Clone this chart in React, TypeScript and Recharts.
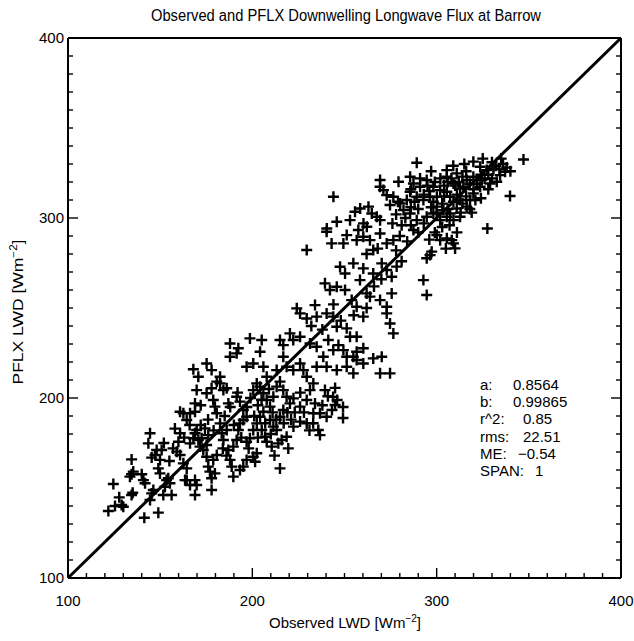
import React from 'react';
import { ScatterChart, Scatter, XAxis, YAxis, ReferenceLine } from 'recharts';

const FONT = '"Liberation Sans", Arial, "DejaVu Sans", sans-serif';

const lowerPoints: [number, number][] = [
  [121.9,137.2],[125.5,140.0],[127.8,144.8],[129.1,140.6],[130.0,139.6],[124.6,152.2],[134.5,146.1],[135.1,147.4],
  [141.4,133.5],[149.0,136.3],[144.5,143.3],[146.3,148.9],[145.4,147.0],[134.5,157.6],[133.6,156.3],[135.4,159.1],
  [134.5,165.9],[140.0,157.6],[140.9,154.4],[141.8,152.6],[143.6,174.8],[144.5,180.4],[145.4,166.9],[147.2,168.3],
  [148.1,171.1],[149.9,165.6],[150.8,171.1],[149.0,160.9],[149.9,158.1],[153.5,154.4],[154.4,155.4],[152.6,150.7],
  [156.2,146.1],[151.7,146.1],[155.3,152.6],[160.8,192.4],[162.6,191.5],[164.4,187.8],[166.2,191.5],[168.9,192.4],
  [168.9,197.0],[169.8,204.4],[160.8,180.4],[159.9,175.7],[159.0,170.2],[160.8,168.3],[162.6,163.7],[164.4,160.9],
  [163.5,154.4],[166.2,151.7],[168.9,146.1],[166.2,174.8],[168.0,177.6],[168.9,180.4],[169.8,182.2],[170.7,176.7],
  [171.6,173.0],[172.5,177.6],[173.4,171.1],[175.2,173.9],[176.1,179.4],[174.3,183.1],[175.2,202.6],[177.9,205.4],
  [178.8,198.9],[179.7,195.2],[180.7,191.5],[180.7,209.1],[182.5,208.1],[184.3,204.4],[186.1,205.4],[187.0,197.0],
  [191.5,200.7],[193.3,198.0],[195.1,193.3],[175.2,167.4],[176.1,161.9],[177.0,159.1],[177.9,155.4],[178.8,165.6],
  [180.7,168.3],[179.7,158.1],[177.9,148.9],[169.8,151.7],[168.9,154.4],[164.4,154.4],[182.5,185.9],[183.4,180.4],
  [184.3,176.7],[186.1,182.2],[187.0,171.1],[187.9,165.6],[188.8,161.9],[189.7,173.0],[191.5,176.7],[192.4,182.2],
  [193.3,185.9],[195.1,187.8],[196.9,189.6],[189.7,156.3],[193.3,160.0],[195.1,161.9],[196.9,165.6],[200.5,167.4],
  [202.4,169.3],[201.5,164.6],[196.9,175.7],[198.7,177.6],[200.5,182.2],[202.4,185.9],[204.2,189.6],[206.0,192.4],
  [205.1,182.2],[206.9,178.5],[207.8,175.7],[200.5,204.4],[202.4,208.1],[204.2,206.3],[206.0,202.6],[207.8,198.9],
  [209.6,195.2],[211.4,200.7],[213.2,206.3],[215.0,209.1],[216.8,204.4],[218.6,200.7],[220.4,197.0],[222.3,199.8],
  [225.9,195.2],[229.5,198.9],[231.3,204.4],[233.1,208.1],[234.0,197.0],[210.5,173.0],[214.1,174.8],[215.9,176.7],
  [218.6,178.5],[219.5,172.0],[215.0,160.9],[222.3,184.1],[225.9,186.9],[229.5,185.9],[233.1,191.5],[236.7,191.5],
  [235.8,182.2],[236.7,179.4],[240.3,189.6],[239.4,204.4],[209.6,187.8],[211.4,184.1],[213.2,182.2],[215.0,189.6],
  [216.8,193.3],
];

const middlePoints: [number, number][] = [
  [240.3,292.4],[251.2,290.5],[243.0,285.9],[249.4,285.9],[256.6,287.7],[260.2,289.6],[263.8,287.7],[269.3,291.4],
  [272.9,285.9],[276.5,287.7],[229.5,282.2],[247.6,272.9],[250.3,269.2],[254.8,274.8],[260.2,272.0],[265.6,282.2],
  [265.6,269.2],[270.2,274.8],[272.9,271.1],[275.6,267.4],[278.3,273.0],[239.4,263.7],[242.1,260.0],[245.8,261.8],
  [250.3,260.0],[253.9,254.4],[256.6,250.7],[258.4,265.5],[262.0,258.1],[263.8,256.3],[269.3,254.4],[272.9,250.7],
  [275.6,258.1],[224.1,249.8],[225.9,247.0],[229.5,244.2],[234.0,251.6],[234.9,245.2],[240.3,247.0],[243.9,245.2],
  [245.8,239.6],[251.2,238.7],[253.0,234.0],[256.6,234.0],[260.2,245.2],[272.9,247.0],[274.7,241.4],[276.5,235.9],
  [187.9,230.3],[192.4,227.6],[198.7,233.1],[205.1,232.2],[204.2,225.7],[215.0,232.2],[216.8,229.4],[220.4,235.9],
  [222.2,232.2],[225.9,234.0],[231.3,230.3],[234.9,228.5],[238.5,222.9],[241.2,232.2],[243.9,226.6],[246.7,229.4],
  [249.4,226.6],[251.2,222.9],[254.8,222.9],[256.6,225.7],[260.2,227.6],[256.6,221.1],[265.6,222.0],[270.2,222.9],
  [269.3,213.7],[274.7,213.7],[260.2,219.2],[254.8,213.7],[251.2,217.4],[175.2,219.2],[177.9,215.5],[182.5,211.8],
  [187.9,222.9],[191.5,224.8],[196.9,217.4],[200.5,219.2],[206.0,217.4],[207.8,211.8],[213.2,215.5],[216.8,222.9],
  [218.6,217.4],[222.2,215.5],[225.9,219.2],[227.7,215.5],[229.5,211.8],[234.9,217.4],[240.3,217.4],[245.8,215.5],
  [244.9,205.6],[243.8,200.6],[244.9,196.1],[243.2,193.3],[249.2,195.0],[249.2,188.9],[246.0,198.9],[168.0,216.0],
  [170.7,211.8],
];

const upperPoints: [number, number][] = [
  [347.1,332.5],[339.8,312.2],[327.5,294.2],[289.2,330.7],[269.3,321.1],[279.3,320.1],[244.0,311.8],[319.9,331.3],
  [323.6,328.5],[327.2,326.6],[330.8,327.5],[334.4,323.8],[337.1,325.7],[332.6,320.1],[329.0,319.2],[324.5,321.1],
  [319.9,322.9],[316.3,321.1],[314.5,317.4],[310.9,324.8],[305.5,322.9],[309.1,319.2],[305.5,326.6],[285.6,322.9],
  [287.4,319.2],[291.0,317.4],[294.6,321.1],[298.2,317.4],[300.1,311.8],[301.9,315.5],[305.5,314.6],[307.3,311.8],
  [309.1,309.0],[312.7,310.0],[310.9,305.3],[307.3,302.5],[303.7,304.4],[300.1,306.3],[298.2,309.0],[296.4,311.8],
  [292.8,310.0],[289.2,311.8],[285.6,314.6],[283.8,310.0],[280.2,308.1],[282.0,304.4],[285.6,302.5],[289.2,298.8],
  [294.6,300.7],[298.2,302.5],[301.9,298.8],[305.5,300.7],[309.1,298.8],[312.7,300.7],[316.3,306.3],[318.1,310.0],
  [319.9,313.7],[323.6,317.4],[312.7,316.4],[271.1,315.5],[272.9,312.7],[274.7,307.2],[276.5,311.8],[269.3,317.4],
  [300.1,290.5],[301.9,287.7],[305.5,288.7],[309.1,285.9],[310.0,283.1],[308.2,287.7],[296.4,279.4],[297.3,281.3],
  [294.6,277.6],[292.8,265.5],[294.6,257.2],[287.4,293.3],[240.4,294.2],[245.8,297.9],[253.0,298.8],[255.7,303.5],
  [258.5,305.3],[263.0,306.3],[264.8,302.5],[267.5,300.7],[269.3,298.8],[262.1,295.1],[260.3,297.0],[257.5,293.3],
];

const corePoints: [number, number][] = [
  [296,315],[299,320],[302,322],[304,318],[306,320],[308,322],[310,318],[312,320],[314,323],[316,326],[318,319],
  [320,316],[322,319],[324,324],[326,322],[328,324],[330,322],[332,329],[334,327],[336,330],[303,308],[306,305],
  [311,313],[314,308],[316,312],[318,305],[321,310],[313,303],[307,296],[304,312],[300,303],[297,306],[295,318],
  [293,313],[290,305],[288,309],[286,306],[283,300],[281,296],[278,302],[276,297],[279,309],[286,316],[291,322],
  [297,326],[309,329],[315,330],[325,333],[330,331],[335,333],[338,328],[340,326],[328,316],[324,311],[319,303],
  [299,292],[303,295],[311,292],[296,288],[305,283],
];

const densePoints: [number, number][] = [
  [185,190],[188,195],[190,185],[192,203],[194,178],[197,195],[199,200],[201,190],[203,196],[205,199],[207,186],
  [209,205],[211,192],[213,188],[217,186],[219,192],[221,188],[223,192],[226,203],[228,192],[231,182],[233,186],
  [238,196],[241,201],[184,172],[186,168],[198,172],[203,178],[210,180],[212,168],[172,185],[176,188],[179,182],
  [172,196],[166,185],[163,178],[157,172],[155,165],[152,175],[158,183],[262,280],[268,283],[280,290],[284,287],
  [278,282],[286,296],[290,292],[293,297],[266,262],[270,266],[281,276],[255,246],[262,250],[238,238],[232,240],
  [244,252],[248,243],
];

const axisTicks = [100,110,120,130,140,150,160,170,180,190,200,210,220,230,240,250,260,270,280,290,300,310,320,330,340,350,360,370,380,390,400];
const majorTicks = [100, 200, 300, 400];

const statLabels = ['a:', 'b:', 'r^2:', 'rms:', 'ME:', 'SPAN:'];
const statValues = ['0.8564', '0.99865', '0.85', '22.51', '\u22120.54', '1'];
const statValueX = [513, 513, 523, 523, 518, 535];

const scatterData = [...lowerPoints, ...middlePoints, ...upperPoints, ...corePoints, ...densePoints].map(
  ([obs, pflx]) => ({ obs, pflx })
);

const tickStroke = { stroke: '#000', strokeWidth: 1.4 };

const isMajor = (v: number) => majorTicks.includes(v);

function BottomTick(props: any) {
  const { x, y, payload } = props;
  const m = isMajor(payload.value);
  return (
    <g>
      <line x1={x} y1={y} x2={x} y2={y - (m ? 10 : 5)} {...tickStroke} />
      {m && (
        <text x={x} y={y + 28} textAnchor="middle" fontSize={15} fontFamily={FONT} fill="#000">
          {payload.value}
        </text>
      )}
    </g>
  );
}

function TopTick(props: any) {
  const { x, y, payload } = props;
  const m = isMajor(payload.value);
  return <line x1={x} y1={y} x2={x} y2={y + (m ? 10 : 5)} {...tickStroke} />;
}

function LeftTick(props: any) {
  const { x, y, payload } = props;
  const m = isMajor(payload.value);
  return (
    <g>
      <line x1={x} y1={y} x2={x + (m ? 10 : 5)} y2={y} {...tickStroke} />
      {m && (
        <text x={x - 4} y={y + 5} textAnchor="end" fontSize={15} fontFamily={FONT} fill="#000">
          {payload.value}
        </text>
      )}
    </g>
  );
}

function RightTick(props: any) {
  const { x, y, payload } = props;
  const m = isMajor(payload.value);
  return <line x1={x} y1={y} x2={x - (m ? 10 : 5)} y2={y} {...tickStroke} />;
}

function PlusShape(props: any) {
  const { cx, cy } = props;
  if (cx == null || cy == null) return null;
  return (
    <path
      d={`M${cx - 5.5},${cy}H${cx + 5.5}M${cx},${cy - 5.5}V${cy + 5.5}`}
      stroke="#000"
      strokeWidth={2.4}
      fill="none"
    />
  );
}

const axisLine = { stroke: '#000', strokeWidth: 2 };

export default function App() {
  return (
    <div style={{ position: 'absolute', left: 0, top: 0, width: 634, height: 641, background: '#fff' }}>
      <div style={{ position: 'absolute', left: 0, top: 0 }}>
        <ScatterChart
          width={634}
          height={641}
          margin={{ top: 28, right: 3, bottom: 33, left: 28 }}
          style={{ fontFamily: FONT }}
        >
          <XAxis
            xAxisId="b"
            dataKey="obs"
            type="number"
            domain={[100, 400]}
            ticks={axisTicks}
            interval={0}
            orientation="bottom"
            height={30}
            tickSize={0}
            tickMargin={0}
            tickLine={false}
            axisLine={axisLine}
            tick={<BottomTick />}
            allowDataOverflow
          />
          <XAxis
            xAxisId="t"
            type="number"
            domain={[100, 400]}
            ticks={axisTicks}
            interval={0}
            orientation="top"
            height={10}
            tickSize={0}
            tickMargin={0}
            tickLine={false}
            axisLine={axisLine}
            tick={<TopTick />}
            allowDataOverflow
          />
          <YAxis
            yAxisId="l"
            dataKey="pflx"
            type="number"
            domain={[100, 400]}
            ticks={axisTicks}
            interval={0}
            orientation="left"
            width={40}
            tickSize={0}
            tickMargin={0}
            tickLine={false}
            axisLine={axisLine}
            tick={<LeftTick />}
            allowDataOverflow
          />
          <YAxis
            yAxisId="r"
            type="number"
            domain={[100, 400]}
            ticks={axisTicks}
            interval={0}
            orientation="right"
            width={10}
            tickSize={0}
            tickMargin={0}
            tickLine={false}
            axisLine={axisLine}
            tick={<RightTick />}
            allowDataOverflow
          />
          <ReferenceLine
            xAxisId="b"
            yAxisId="l"
            segment={[{ x: 100, y: 100 }, { x: 400, y: 400 }]}
            stroke="#000"
            strokeWidth={3}
            ifOverflow="visible"
          />
          <Scatter
            xAxisId="b"
            yAxisId="l"
            data={scatterData}
            shape={<PlusShape />}
            isAnimationActive={false}
          />
        </ScatterChart>
      </div>
      <svg
        width={634}
        height={641}
        style={{ position: 'absolute', left: 0, top: 0, pointerEvents: 'none' }}
        fontFamily={FONT}
      >
        <text x={346} y={21} textAnchor="middle" fontSize={16} fill="#000" textLength={390} lengthAdjust="spacingAndGlyphs">
          Observed and PFLX Downwelling Longwave Flux at Barrow
        </text>
        <text x={345} y={628} textAnchor="middle" fontSize={15} fill="#000">
          Observed LWD [Wm<tspan dy={-6} fontSize={10}>−2</tspan><tspan dy={6}>]</tspan>
        </text>
        <text
          x={0}
          y={0}
          transform="translate(23,312) rotate(-90)"
          textAnchor="middle"
          fontSize={15}
          fill="#000"
          textLength={145}
          lengthAdjust="spacingAndGlyphs"
        >
          PFLX LWD [Wm<tspan dy={-6} fontSize={10}>−2</tspan><tspan dy={6}>]</tspan>
        </text>
        {statLabels.map((lab, i) => (
          <g key={lab}>
            <text x={480} y={390 + i * 17.2} fontSize={15} fill="#000">{lab}</text>
            <text x={statValueX[i]} y={390 + i * 17.2} fontSize={15} fill="#000">{statValues[i]}</text>
          </g>
        ))}
      </svg>
    </div>
  );
}
